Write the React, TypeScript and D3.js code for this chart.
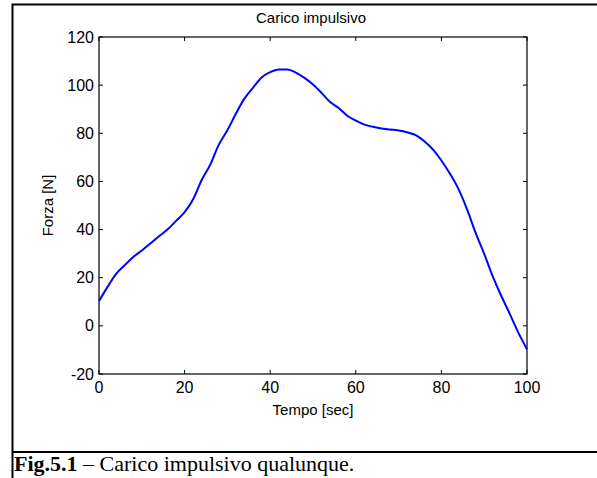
import React, { useEffect, useRef } from 'react';
import * as d3 from 'd3';

// Tempo [sec] and Forza [N]
const tempo = [0, 2, 4, 6, 8, 10, 12, 14, 16, 18, 20, 22, 24, 26, 28, 30, 32, 34, 36, 38, 40,
  42, 44, 46, 48, 50, 52, 54, 56, 58, 60, 62, 64, 66, 68, 70, 72, 74, 76, 78, 80,
  82, 84, 86, 88, 90, 92, 94, 96, 98, 100];
const forza = [10.3, 16.2, 21.6, 25.2, 28.6, 31.3, 34.2, 37.2, 40.0, 43.6, 47.2, 52.6, 60.6, 67.0, 75.3, 81.3, 88.2, 94.5, 99.0, 103.2, 105.4,
  106.5, 106.5, 105.2, 103.0, 100.3, 96.8, 93.0, 90.5, 87.3, 85.3, 83.6, 82.7, 82.0, 81.6, 81.2, 80.4, 79.2, 76.7, 73.3, 68.7,
  63.2, 56.8, 48.4, 38.6, 29.9, 20.6, 12.4, 4.9, -2.9, -9.7];

const xTicks = [0, 20, 40, 60, 80, 100];
const yTicks = [-20, 0, 20, 40, 60, 80, 100, 120];

const W = 597;
const H = 478;

function App() {
  const svgRef = useRef<SVGSVGElement>(null);

  useEffect(() => {
    const svg = d3.select(svgRef.current);
    svg.selectAll("*").remove();

    const plot = { left: 99, right: 527, top: 37, bottom: 374 };
    const sans = "Liberation Sans, Arial, sans-serif";

    // outer frame and caption line
    svg.append("rect")
      .attr("x", 12.5).attr("y", 4.5)
      .attr("width", W).attr("height", H)
      .attr("fill", "white").attr("stroke", "black").attr("stroke-width", 2);
    svg.append("line")
      .attr("x1", 12).attr("x2", W).attr("y1", 452).attr("y2", 452)
      .attr("stroke", "black").attr("stroke-width", 2);

    const caption = svg.append("text")
      .attr("x", 14).attr("y", 471)
      .attr("font-family", "Liberation Serif, Times New Roman, serif")
      .attr("font-size", 22);
    caption.append("tspan").attr("font-weight", "bold").text("Fig.5.1");
    caption.append("tspan").text(" \u2013 Carico impulsivo qualunque.");

    const x = d3.scaleLinear().domain([0, 100]).range([plot.left, plot.right]);
    const y = d3.scaleLinear().domain([-20, 120]).range([plot.bottom, plot.top]);

    const g = svg.append("g");

    // box
    g.append("rect")
      .attr("x", plot.left).attr("y", plot.top)
      .attr("width", plot.right - plot.left).attr("height", plot.bottom - plot.top)
      .attr("fill", "none").attr("stroke", "black").attr("stroke-width", 1.2);

    const tick = 4;
    xTicks.forEach(t => {
      g.append("line").attr("x1", x(t)).attr("x2", x(t))
        .attr("y1", plot.bottom).attr("y2", plot.bottom - tick).attr("stroke", "black");
      g.append("line").attr("x1", x(t)).attr("x2", x(t))
        .attr("y1", plot.top).attr("y2", plot.top + tick).attr("stroke", "black");
      g.append("text")
        .attr("x", x(t)).attr("y", plot.bottom + 19)
        .attr("text-anchor", "middle")
        .attr("font-family", sans).attr("font-size", 16)
        .text(t);
    });
    yTicks.forEach(v => {
      g.append("line").attr("x1", plot.left).attr("x2", plot.left + tick)
        .attr("y1", y(v)).attr("y2", y(v)).attr("stroke", "black");
      g.append("line").attr("x1", plot.right).attr("x2", plot.right - tick)
        .attr("y1", y(v)).attr("y2", y(v)).attr("stroke", "black");
      g.append("text")
        .attr("x", plot.left - 5).attr("y", y(v) + 5.5)
        .attr("text-anchor", "end")
        .attr("font-family", sans).attr("font-size", 16)
        .text(v);
    });

    // curve
    const data = tempo.map((t, i) => [t, forza[i]] as [number, number]);
    const line = d3.line<[number, number]>()
      .x(d => x(d[0]))
      .y(d => y(d[1]))
      .curve(d3.curveMonotoneX);
    g.append("path")
      .datum(data)
      .attr("d", line)
      .attr("fill", "none")
      .attr("stroke", "#0000ff")
      .attr("stroke-width", 2);

    // labels
    g.append("text")
      .attr("x", (plot.left + plot.right) / 2 - 2).attr("y", 23)
      .attr("text-anchor", "middle")
      .attr("font-family", sans).attr("font-size", 15)
      .text("Carico impulsivo");
    g.append("text")
      .attr("x", (plot.left + plot.right) / 2).attr("y", 415)
      .attr("text-anchor", "middle")
      .attr("font-family", sans).attr("font-size", 15)
      .text("Tempo [sec]");
    g.append("text")
      .attr("transform", `translate(53, ${(plot.top + plot.bottom) / 2}) rotate(-90)`)
      .attr("text-anchor", "middle")
      .attr("font-family", sans).attr("font-size", 15)
      .text("Forza [N]");
  }, []);

  return (
    <svg ref={svgRef} width={W} height={H}
      style={{ position: "absolute", left: 0, top: 0, background: "white" }} />
  );
}

export default App;
